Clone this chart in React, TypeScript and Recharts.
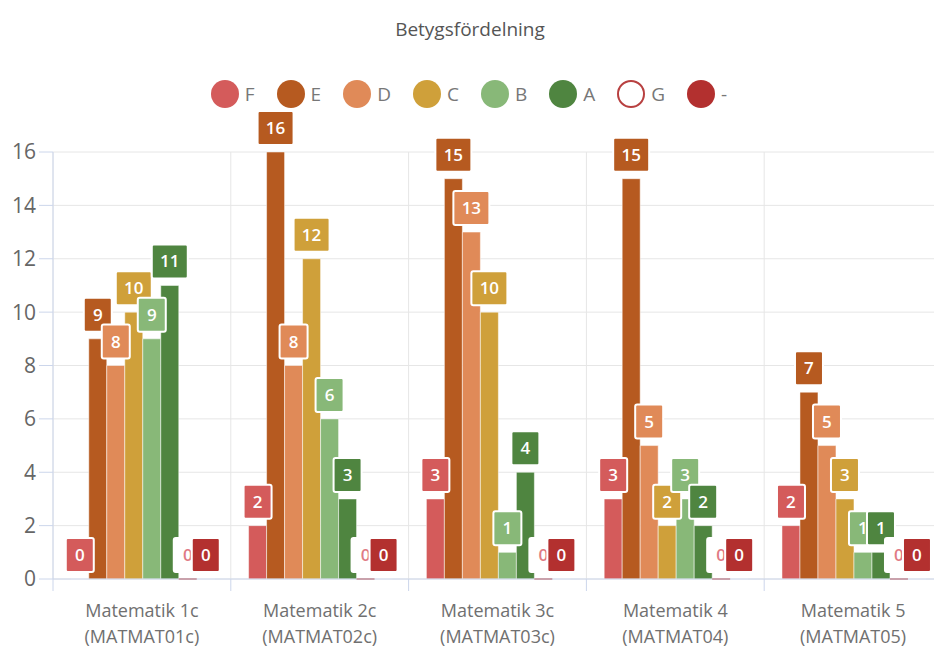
import { BarChart, Bar, XAxis, YAxis, CartesianGrid, LabelList } from "recharts";

const courseNames = ["Matematik 1c", "Matematik 2c", "Matematik 3c", "Matematik 4", "Matematik 5"];
const courseCodes = ["(MATMAT01c)", "(MATMAT02c)", "(MATMAT03c)", "(MATMAT04)", "(MATMAT05)"];

const gradeF = [0, 2, 3, 3, 2];
const gradeE = [9, 16, 15, 15, 7];
const gradeD = [8, 8, 13, 5, 5];
const gradeC = [10, 12, 10, 2, 3];
const gradeB = [9, 6, 1, 3, 1];
const gradeA = [11, 3, 4, 2, 1];
const gradeG = [0, 0, 0, 0, 0];
const gradeDash = [0, 0, 0, 0, 0];

const yTicks = [0, 2, 4, 6, 8, 10, 12, 14, 16];

const series = [
  { key: "F", values: gradeF, color: "#d45b5b" },
  { key: "E", values: gradeE, color: "#b65a20" },
  { key: "D", values: gradeD, color: "#e08a58" },
  { key: "C", values: gradeC, color: "#cfa03a" },
  { key: "B", values: gradeB, color: "#88b878" },
  { key: "A", values: gradeA, color: "#4f8540" },
  { key: "G", values: gradeG, color: "#ffffff", outline: "#b84040", text: "#e07a84" },
  { key: "-", values: gradeDash, color: "#b3302f" },
];

const data = courseNames.map((name, i) => {
  const row: Record<string, any> = { name, code: courseCodes[i] };
  series.forEach((s) => {
    row[s.key] = s.values[i];
  });
  return row;
});

const CHART_W = 942;
const CHART_H = 651;
const PLOT_LEFT = 53;
const BAND = (CHART_W - PLOT_LEFT) / courseNames.length;
const FONT = "'Open Sans', sans-serif";

function makeLabel(fill: string, textColor: string) {
  return (props: any) => {
    const { x, y, width, height, value } = props;
    const txt = String(value);
    const w = txt.length > 1 ? 36 : 28;
    const h = 34;
    const cx = x + width / 2;
    const top = height < 0 ? y + height : y;
    const bottom = top - 7;
    return (
      <g>
        <rect x={cx - w / 2} y={bottom - h} width={w} height={h} rx={2} fill={fill} stroke="#ffffff" strokeWidth={2} />
        <text x={cx} y={bottom - h / 2 + 6} textAnchor="middle" fill={textColor} fontSize={17} fontWeight={600} fontFamily={FONT}>
          {txt}
        </text>
      </g>
    );
  };
}

function CourseTick(props: any) {
  const { x, y, payload, index } = props;
  const left = x - BAND / 2;
  return (
    <g>
      <line x1={left} y1={y - 8} x2={left} y2={y + 4} stroke="#ccd6eb" />
      <text x={x} y={y + 30} textAnchor="middle" fill="#707070" fontSize={18} fontFamily={FONT}>
        {payload.value}
      </text>
      <text x={x} y={y + 56} textAnchor="middle" fill="#707070" fontSize={18} fontFamily={FONT}>
        {courseCodes[index]}
      </text>
    </g>
  );
}

export default function App() {
  return (
    <div style={{ position: "absolute", left: 0, top: 0, width: 934, height: 651, overflow: "hidden", background: "#fff", fontFamily: FONT }}>
      <div style={{ position: "absolute", top: 16, left: 0, width: 940, textAlign: "center", fontSize: 19, color: "#555" }}>
        Betygsfördelning
      </div>
      <div style={{ position: "absolute", top: 80, left: 0, width: 938, display: "flex", justifyContent: "center", alignItems: "center" }}>
        {series.map((s) => (
          <div key={s.key} style={{ display: "flex", alignItems: "center", margin: "0 11px" }}>
            <span
              style={{
                display: "inline-block",
                width: 28,
                height: 28,
                borderRadius: "50%",
                boxSizing: "border-box",
                background: s.color,
                border: s.outline ? `2px solid ${s.outline}` : "none",
              }}
            />
            <span style={{ marginLeft: 6, fontSize: 19, color: "#777" }}>{s.key}</span>
          </div>
        ))}
      </div>
      <div style={{ position: "absolute", left: 0, top: 0 }}>
        <BarChart
          width={CHART_W}
          height={CHART_H}
          data={data}
          margin={{ top: 152, right: 0, left: 0, bottom: 0 }}
          barCategoryGap="10%"
          barGap={0}
        >
          <CartesianGrid
            stroke="#e6e6e6"
            verticalCoordinatesGenerator={({ offset }: any) =>
              courseNames.map((_, i) => offset.left + (offset.width / courseNames.length) * i)
            }
          />
          <XAxis
            dataKey="name"
            height={72}
            interval={0}
            tickLine={false}
            axisLine={{ stroke: "#ccd6eb" }}
            tick={<CourseTick />}
          />
          <YAxis
            width={PLOT_LEFT}
            domain={[0, 16]}
            ticks={yTicks}
            tickSize={14}
            tickMargin={3}
            tickLine={{ stroke: "#ccd6eb" }}
            axisLine={{ stroke: "#ccd6eb" }}
            tick={{ fill: "#666", fontSize: 21, fontFamily: FONT }}
          />
          {series.map((s) => (
            <Bar
              key={s.key}
              dataKey={s.key}
              fill={s.color}
              stroke={s.outline ? s.outline : "#ffffff"}
              strokeOpacity={s.outline ? 1 : 0.5}
              minPointSize={0.01}
              isAnimationActive={false}
            >
              <LabelList dataKey={s.key} content={makeLabel(s.color, s.text ? s.text : "#ffffff")} />
            </Bar>
          ))}
        </BarChart>
      </div>
    </div>
  );
}
